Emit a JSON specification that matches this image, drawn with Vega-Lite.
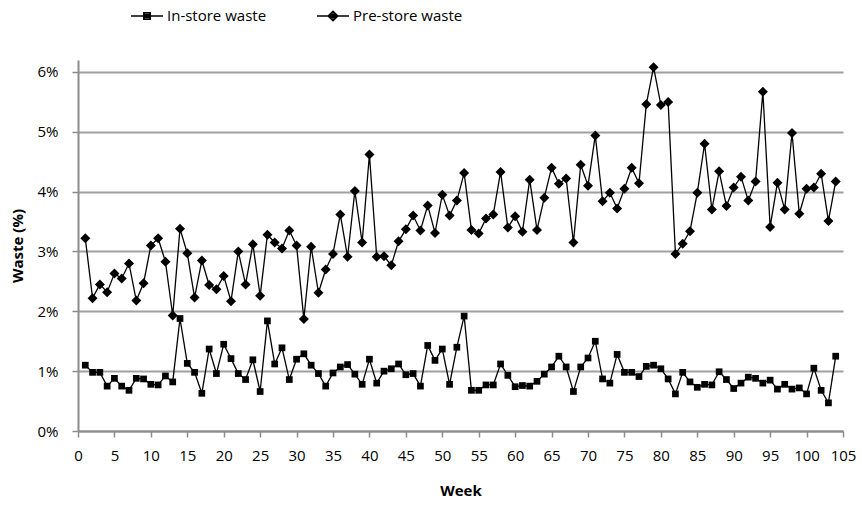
{
  "$schema": "https://vega.github.io/schema/vega-lite/v6.json",
  "width": 765,
  "height": 371,
  "autosize": "none",
  "padding": {"left": 78, "top": 60, "right": 19, "bottom": 75},
  "background": "white",
  "config": {
    "font": "Open Sans",
    "view": {"stroke": null},
    "axis": {"labelFont": "Open Sans", "titleFont": "Open Sans", "labelColor": "#000", "titleColor": "#000"}
  },
  "data": {
    "values": [
      {"w":1,"in":1.10,"pre":3.22},{"w":2,"in":0.98,"pre":2.22},{"w":3,"in":0.98,"pre":2.45},{"w":4,"in":0.75,"pre":2.32},
      {"w":5,"in":0.88,"pre":2.63},{"w":6,"in":0.75,"pre":2.55},{"w":7,"in":0.68,"pre":2.80},{"w":8,"in":0.88,"pre":2.18},
      {"w":9,"in":0.87,"pre":2.47},{"w":10,"in":0.78,"pre":3.10},{"w":11,"in":0.77,"pre":3.22},{"w":12,"in":0.92,"pre":2.83},
      {"w":13,"in":0.82,"pre":1.93},{"w":14,"in":1.88,"pre":3.38},{"w":15,"in":1.13,"pre":2.97},{"w":16,"in":0.98,"pre":2.23},
      {"w":17,"in":0.63,"pre":2.85},{"w":18,"in":1.37,"pre":2.44},{"w":19,"in":0.96,"pre":2.37},{"w":20,"in":1.45,"pre":2.59},
      {"w":21,"in":1.21,"pre":2.17},{"w":22,"in":0.96,"pre":3.00},{"w":23,"in":0.86,"pre":2.45},{"w":24,"in":1.19,"pre":3.12},
      {"w":25,"in":0.66,"pre":2.26},{"w":26,"in":1.84,"pre":3.28},{"w":27,"in":1.12,"pre":3.15},{"w":28,"in":1.39,"pre":3.05},
      {"w":29,"in":0.86,"pre":3.35},{"w":30,"in":1.20,"pre":3.10},{"w":31,"in":1.29,"pre":1.87},{"w":32,"in":1.10,"pre":3.08},
      {"w":33,"in":0.96,"pre":2.31},{"w":34,"in":0.75,"pre":2.70},{"w":35,"in":0.97,"pre":2.96},{"w":36,"in":1.07,"pre":3.62},
      {"w":37,"in":1.11,"pre":2.91},{"w":38,"in":0.95,"pre":4.01},{"w":39,"in":0.78,"pre":3.15},{"w":40,"in":1.20,"pre":4.62},
      {"w":41,"in":0.80,"pre":2.91},{"w":42,"in":1.00,"pre":2.92},{"w":43,"in":1.04,"pre":2.77},{"w":44,"in":1.12,"pre":3.17},
      {"w":45,"in":0.94,"pre":3.37},{"w":46,"in":0.96,"pre":3.60},{"w":47,"in":0.75,"pre":3.35},{"w":48,"in":1.43,"pre":3.77},
      {"w":49,"in":1.18,"pre":3.31},{"w":50,"in":1.37,"pre":3.95},{"w":51,"in":0.78,"pre":3.60},{"w":52,"in":1.40,"pre":3.85},
      {"w":53,"in":1.92,"pre":4.31},{"w":54,"in":0.68,"pre":3.36},{"w":55,"in":0.68,"pre":3.30},{"w":56,"in":0.77,"pre":3.55},
      {"w":57,"in":0.77,"pre":3.62},{"w":58,"in":1.12,"pre":4.33},{"w":59,"in":0.93,"pre":3.40},{"w":60,"in":0.74,"pre":3.59},
      {"w":61,"in":0.76,"pre":3.33},{"w":62,"in":0.75,"pre":4.20},{"w":63,"in":0.83,"pre":3.36},{"w":64,"in":0.95,"pre":3.90},
      {"w":65,"in":1.07,"pre":4.40},{"w":66,"in":1.25,"pre":4.13},{"w":67,"in":1.07,"pre":4.22},{"w":68,"in":0.66,"pre":3.15},
      {"w":69,"in":1.07,"pre":4.45},{"w":70,"in":1.22,"pre":4.10},{"w":71,"in":1.50,"pre":4.94},{"w":72,"in":0.87,"pre":3.84},
      {"w":73,"in":0.80,"pre":3.98},{"w":74,"in":1.28,"pre":3.72},{"w":75,"in":0.98,"pre":4.05},{"w":76,"in":0.98,"pre":4.40},
      {"w":77,"in":0.91,"pre":4.14},{"w":78,"in":1.08,"pre":5.46},{"w":79,"in":1.10,"pre":6.08},{"w":80,"in":1.04,"pre":5.45},
      {"w":81,"in":0.87,"pre":5.50},{"w":82,"in":0.62,"pre":2.96},{"w":83,"in":0.98,"pre":3.13},{"w":84,"in":0.82,"pre":3.34},
      {"w":85,"in":0.73,"pre":3.98},{"w":86,"in":0.78,"pre":4.80},{"w":87,"in":0.77,"pre":3.70},{"w":88,"in":0.99,"pre":4.34},
      {"w":89,"in":0.86,"pre":3.76},{"w":90,"in":0.71,"pre":4.07},{"w":91,"in":0.80,"pre":4.25},{"w":92,"in":0.90,"pre":3.85},
      {"w":93,"in":0.88,"pre":4.17},{"w":94,"in":0.80,"pre":5.67},{"w":95,"in":0.85,"pre":3.41},{"w":96,"in":0.70,"pre":4.15},
      {"w":97,"in":0.78,"pre":3.70},{"w":98,"in":0.70,"pre":4.98},{"w":99,"in":0.72,"pre":3.63},{"w":100,"in":0.62,"pre":4.05},
      {"w":101,"in":1.05,"pre":4.07},{"w":102,"in":0.68,"pre":4.30},{"w":103,"in":0.47,"pre":3.51},{"w":104,"in":1.25,"pre":4.17}
    ]
  },
  "transform": [
    {"fold": ["in", "pre"], "as": ["key", "value"]},
    {"lookup": "key", "from": {"data": {"values": [{"key": "in", "series": "In-store waste"}, {"key": "pre", "series": "Pre-store waste"}]}, "key": "key", "fields": ["series"]}}
  ],
  "encoding": {
    "x": {
      "field": "w", "type": "quantitative",
      "scale": {"domain": [0, 105], "nice": false, "zero": false},
      "axis": {
        "title": "Week", "values": [0,5,10,15,20,25,30,35,40,45,50,55,60,65,70,75,80,85,90,95,100,105],
        "grid": false, "domainColor": "#8c8c8c", "domainWidth": 2, "tickColor": "#8c8c8c", "tickWidth": 1.5, "tickSize": 6,
        "labelFontSize": 15, "labelPadding": 11, "labelFlush": false,
        "titleFontSize": 15, "titleFontWeight": "bold", "titlePadding": 20
      }
    },
    "y": {
      "field": "value", "type": "quantitative",
      "scale": {"domain": [0, 6.2], "nice": false},
      "axis": {
        "title": "Waste (%)", "values": [0,1,2,3,4,5,6], "labelExpr": "datum.value + '%'",
        "grid": true, "gridColor": "#a0a0a0", "gridWidth": 2,
        "domainColor": "#8c8c8c", "domainWidth": 2, "tickColor": "#8c8c8c", "tickWidth": 1.5, "tickSize": 6,
        "labelFontSize": 15, "labelPadding": 14,
        "titleFontSize": 15, "titleFontWeight": "bold", "titlePadding": 12
      }
    }
  },
  "layer": [
    {
      "mark": {"type": "line", "color": "black", "strokeWidth": 1.3},
      "encoding": {"detail": {"field": "series", "type": "nominal"}}
    },
    {
      "mark": {"type": "point", "filled": true, "color": "black", "opacity": 1},
      "encoding": {
        "shape": {"condition": {"test": "datum.series === 'In-store waste'", "value": "square"}, "value": "diamond"},
        "size": {"condition": {"test": "datum.series === 'In-store waste'", "value": 45}, "value": 100}
      }
    },
    {
      "transform": [{"filter": "false"}],
      "mark": {"type": "point", "filled": false, "color": "black", "strokeWidth": 1.5, "opacity": 1},
      "encoding": {
        "shape": {
          "field": "series", "type": "nominal",
          "scale": {"domain": ["In-store waste", "Pre-store waste"], "range": [
            "M-1,0H1M-0.2,-0.2H0.2V0.2H-0.2ZM-0.2,-0.1H0.2M-0.2,0.1H0.2",
            "M-1,0H1M0,-0.3L0.3,0L0,0.3L-0.3,0ZM-0.2,-0.1H0.2M-0.2,0.1H0.2M-0.1,-0.2H0.1M-0.1,0.2H0.1"
          ]},
          "legend": {
            "title": null, "orient": "none", "direction": "horizontal",
            "legendX": 52, "legendY": -61,
            "labelFontSize": 15, "labelFont": "Open Sans", "labelColor": "#000",
            "symbolSize": 1024, "symbolStrokeWidth": 1.5, "symbolStrokeColor": "black", "symbolOpacity": 1,
            "columnPadding": 47, "labelOffset": 3
          }
        }
      }
    }
  ]
}
